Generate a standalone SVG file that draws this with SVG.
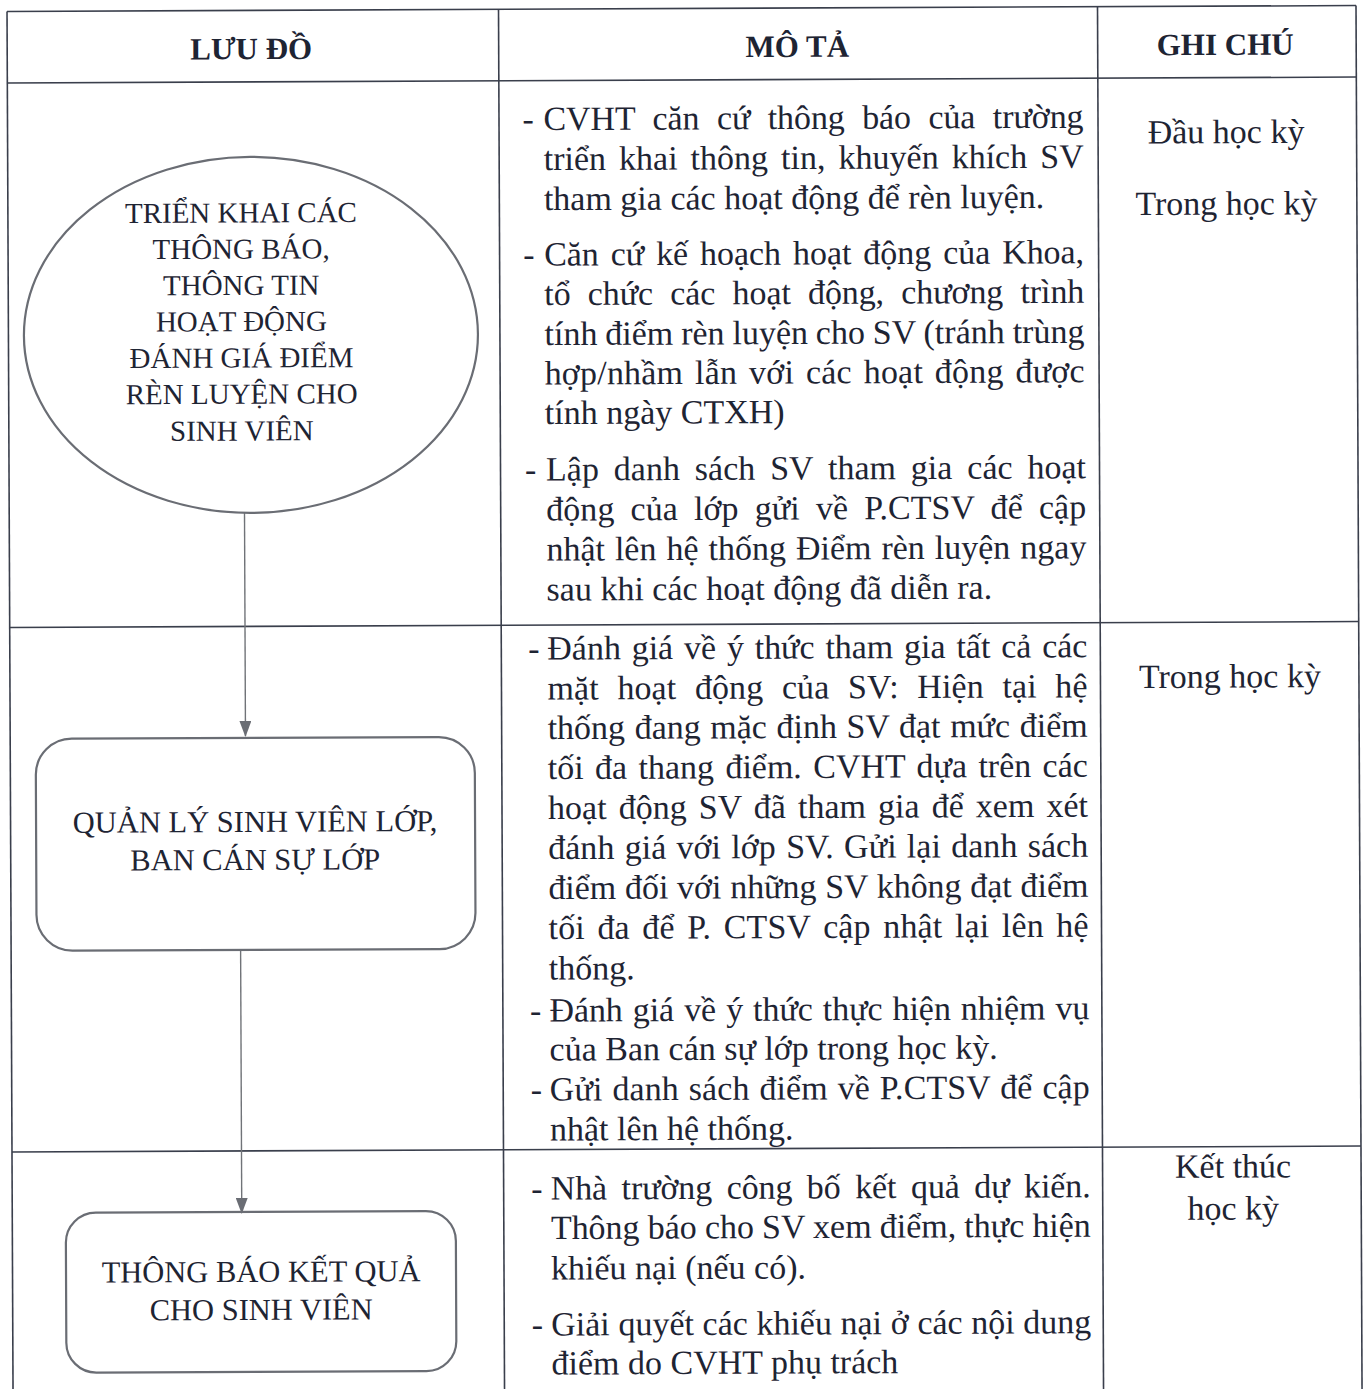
<svg xmlns="http://www.w3.org/2000/svg" width="1366" height="1389" viewBox="0 0 1366 1389">
<style>
.grid{stroke:#3a3f4c;stroke-width:1.6;fill:none}
.hdr{font-family:"Liberation Serif","Times New Roman",serif;font-weight:bold;font-size:31px;fill:#1e2433;text-anchor:middle}
.body{font-family:"Liberation Serif","Times New Roman",serif;font-size:34px;fill:#1e2433}
.note{font-family:"Liberation Serif","Times New Roman",serif;font-size:34px;fill:#1e2433;text-anchor:middle}
.node{font-family:"Liberation Serif","Times New Roman",serif;font-size:29px;fill:#1e2433;text-anchor:middle}
.box{font-family:"Liberation Serif","Times New Roman",serif;font-size:30.5px;fill:#1e2433;text-anchor:middle}
.shape{fill:none;stroke:#6a6d74;stroke-width:2.2}
.conn{stroke:#707378;stroke-width:1.4;fill:none}
</style>
<defs>
<marker id="arr" markerUnits="userSpaceOnUse" markerWidth="16" markerHeight="12" refX="15" refY="6" orient="auto">
<path d="M0,0 L16,6 L0,12 z" fill="#6a6d74"/>
</marker>
</defs>
<rect x="0" y="0" width="1366" height="1389" fill="#ffffff"/>
<g transform="rotate(-0.25 683 694)">
<g id="table">
<line class="grid" x1="10" y1="8.5" x2="1359" y2="8.5"/>
<line class="grid" x1="10" y1="80" x2="1359" y2="80"/>
<line class="grid" x1="10" y1="624.5" x2="1359" y2="624.5"/>
<line class="grid" x1="10" y1="1149" x2="1359" y2="1149"/>
<line class="grid" x1="10" y1="8.5" x2="10" y2="1400"/>
<line class="grid" x1="501.5" y1="8.5" x2="501.5" y2="1400"/>
<line class="grid" x1="1100.5" y1="8.5" x2="1100.5" y2="1400"/>
<line class="grid" x1="1359" y1="8.5" x2="1359" y2="1400"/>
<text class="hdr" x="254" y="57.3">LƯU ĐỒ</text>
<text class="hdr" x="800" y="57.3">MÔ TẢ</text>
<text class="hdr" x="1228" y="57.3">GHI CHÚ</text>
</g>
<g id="connectors">
<line class="conn" x1="245.3" y1="511" x2="245.3" y2="734" marker-end="url(#arr)"/>
<line class="conn" x1="239.5" y1="948" x2="239.5" y2="1211" marker-end="url(#arr)"/>
</g>
<g id="node1">
<ellipse class="shape" cx="252.5" cy="333" rx="227" ry="178"/>
<text class="node" x="243" y="220.6">TRIỂN KHAI CÁC</text>
<text class="node" x="243" y="256.8">THÔNG BÁO,</text>
<text class="node" x="243" y="293">THÔNG TIN</text>
<text class="node" x="243" y="329.2">HOẠT ĐỘNG</text>
<text class="node" x="243" y="365.6">ĐÁNH GIÁ ĐIỂM</text>
<text class="node" x="243" y="401.8">RÈN LUYỆN CHO</text>
<text class="node" x="243" y="438.6">SINH VIÊN</text>
</g>
<g id="node2">
<rect class="shape" x="35.5" y="736" width="439" height="212" rx="36" ry="36"/>
<text class="box" x="254.5" y="830">QUẢN LÝ SINH VIÊN LỚP,</text>
<text class="box" x="254.5" y="868">BAN CÁN SỰ LỚP</text>
</g>
<g id="node3">
<rect class="shape" x="63.5" y="1210" width="390" height="160" rx="30" ry="30"/>
<text class="box" x="258.5" y="1280">THÔNG BÁO KẾT QUẢ</text>
<text class="box" x="258.5" y="1318">CHO SINH VIÊN</text>
</g>
<g id="desc1">
<text class="body" x="525" y="129.5">-</text>
<text class="body" x="546" y="129.5" word-spacing="9.1" textLength="540" lengthAdjust="spacing">CVHT căn cứ thông báo của trường</text>
<text class="body" x="546" y="169.5" word-spacing="4.5" textLength="540" lengthAdjust="spacing">triển khai thông tin, khuyến khích SV</text>
<text class="body" x="546" y="209.5">tham gia các hoạt động để rèn luyện.</text>
<text class="body" x="525" y="265">-</text>
<text class="body" x="546" y="265" word-spacing="3.5" textLength="540" lengthAdjust="spacing">Căn cứ kế hoạch hoạt động của Khoa,</text>
<text class="body" x="546" y="304.5" word-spacing="8.9" textLength="540" lengthAdjust="spacing">tổ chức các hoạt động, chương trình</text>
<text class="body" x="546" y="344.5" word-spacing="-0.7" textLength="540" lengthAdjust="spacing">tính điểm rèn luyện cho SV (tránh trùng</text>
<text class="body" x="546" y="384" word-spacing="3.1" textLength="540" lengthAdjust="spacing">hợp/nhầm lẫn với các hoạt động được</text>
<text class="body" x="546" y="423.5">tính ngày CTXH)</text>
<text class="body" x="526" y="480">-</text>
<text class="body" x="547" y="480" word-spacing="6.3" textLength="540" lengthAdjust="spacing">Lập danh sách SV tham gia các hoạt</text>
<text class="body" x="547" y="520" word-spacing="7.5" textLength="540" lengthAdjust="spacing">động của lớp gửi về P.CTSV để cập</text>
<text class="body" x="547" y="560" word-spacing="1.5" textLength="540" lengthAdjust="spacing">nhật lên hệ thống Điểm rèn luyện ngay</text>
<text class="body" x="547" y="600">sau khi các hoạt động đã diễn ra.</text>
</g>
<g id="desc2">
<text class="body" x="528.5" y="659">-</text>
<text class="body" x="547.5" y="659" word-spacing="2.4" textLength="540" lengthAdjust="spacing">Đánh giá về ý thức tham gia tất cả các</text>
<text class="body" x="547.5" y="699" word-spacing="10.1" textLength="540" lengthAdjust="spacing">mặt hoạt động của SV: Hiện tại hệ</text>
<text class="body" x="547.5" y="738.5" word-spacing="1.2" textLength="540" lengthAdjust="spacing">thống đang mặc định SV đạt mức điểm</text>
<text class="body" x="547.5" y="778.5" word-spacing="2.9" textLength="540" lengthAdjust="spacing">tối đa thang điểm. CVHT dựa trên các</text>
<text class="body" x="547.5" y="818.5" word-spacing="3.5" textLength="540" lengthAdjust="spacing">hoạt động SV đã tham gia để xem xét</text>
<text class="body" x="547.5" y="858.5" word-spacing="1.7" textLength="540" lengthAdjust="spacing">đánh giá với lớp SV. Gửi lại danh sách</text>
<text class="body" x="547.5" y="898.5" word-spacing="0.4" textLength="540" lengthAdjust="spacing">điểm đối với những SV không đạt điểm</text>
<text class="body" x="547.5" y="938.5" word-spacing="4" textLength="540" lengthAdjust="spacing">tối đa để P. CTSV cập nhật lại lên hệ</text>
<text class="body" x="547.5" y="979">thống.</text>
<text class="body" x="528.5" y="1021">-</text>
<text class="body" x="548" y="1021" word-spacing="1.6" textLength="540" lengthAdjust="spacing">Đánh giá về ý thức thực hiện nhiệm vụ</text>
<text class="body" x="548" y="1060">của Ban cán sự lớp trong học kỳ.</text>
<text class="body" x="529" y="1100">-</text>
<text class="body" x="548" y="1100" word-spacing="1.3" textLength="540" lengthAdjust="spacing">Gửi danh sách điểm về P.CTSV để cập</text>
<text class="body" x="548" y="1140">nhật lên hệ thống.</text>
</g>
<g id="desc3">
<text class="body" x="529" y="1199">-</text>
<text class="body" x="548.5" y="1199" word-spacing="6.2" textLength="540" lengthAdjust="spacing">Nhà trường công bố kết quả dự kiến.</text>
<text class="body" x="548.5" y="1238.5" word-spacing="-0.3" textLength="540" lengthAdjust="spacing">Thông báo cho SV xem điểm, thực hiện</text>
<text class="body" x="548.5" y="1279">khiếu nại (nếu có).</text>
<text class="body" x="529" y="1335">-</text>
<text class="body" x="548.5" y="1335" word-spacing="0.2" textLength="540" lengthAdjust="spacing">Giải quyết các khiếu nại ở các nội dung</text>
<text class="body" x="548.5" y="1374">điểm do CVHT phụ trách</text>
</g>
<g id="notes">
<text class="note" x="1228.5" y="145.5">Đầu học kỳ</text>
<text class="note" x="1228.5" y="217">Trong học kỳ</text>
<text class="note" x="1230" y="690">Trong học kỳ</text>
<text class="note" x="1231" y="1180">Kết thúc</text>
<text class="note" x="1231" y="1222">học kỳ</text>
</g>
</g>
</svg>
